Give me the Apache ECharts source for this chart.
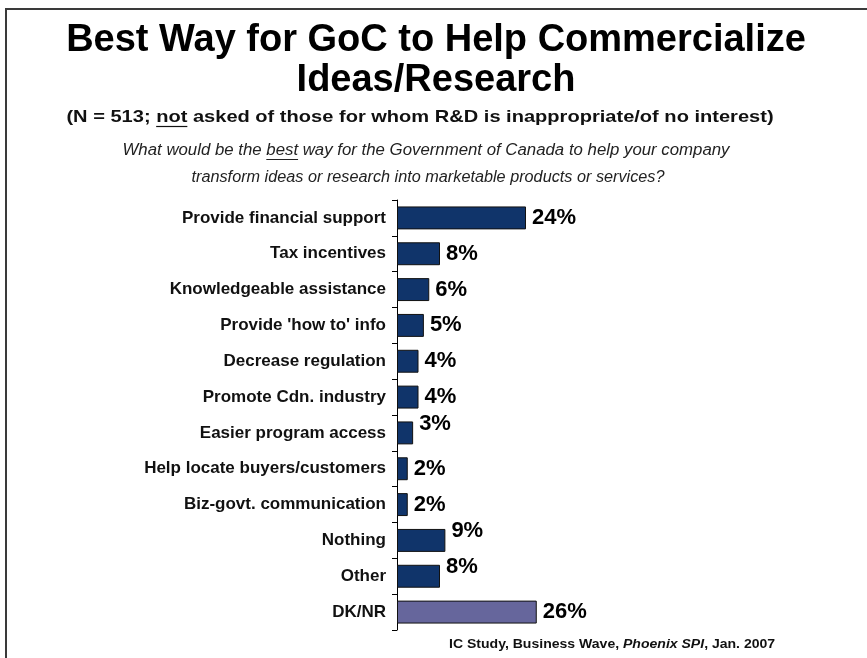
<!DOCTYPE html>
<html>
<head>
<meta charset="utf-8">
<style>
  html, body { margin: 0; padding: 0; background: #ffffff; }
  #chart { width: 867px; height: 658px; }
</style>
<script src="https://cdn.jsdelivr.net/npm/echarts@6/dist/echarts.min.js"></script>
</head>
<body>
<div id="chart"></div>
<script>
// Survey answers, in display order (top to bottom)
const categories = [
  'Provide financial support',
  'Tax incentives',
  'Knowledgeable assistance',
  "Provide 'how to' info",
  'Decrease regulation',
  'Promote Cdn. industry',
  'Easier program access',
  'Help locate buyers/customers',
  'Biz-govt. communication',
  'Nothing',
  'Other',
  'DK/NR'
];
// Share of respondents (%)
const values = [24, 8, 6, 5, 4, 4, 3, 2, 2, 9, 8, 26];

const titleLines = ['Best Way for GoC to Help Commercialize', 'Ideas/Research'];
const noteParts = ['(N = 513; ', 'not', ' asked of those for whom R&D is inappropriate/of no interest)'];
const questionParts = ['What would be the ', 'best', ' way for the Government of Canada to help your company'];
const questionLine2 = 'transform ideas or research into marketable products or services?';
const sourceParts = ['IC Study, Business Wave, ', 'Phoenix SPI', ', Jan. 2007'];

const FONT = '"Liberation Sans", Arial, sans-serif';
const NAVY = '#10346a';
const GREY_PURPLE = '#66669c';

// Labels nudged upward so they sit clear of neighbouring bars
const raisedLabels = ['Easier program access', 'Nothing', 'Other'];

const measureCtx = document.createElement('canvas').getContext('2d');
function textWidth(text, font) {
  measureCtx.font = font;
  return measureCtx.measureText(text).width;
}

// A centred line of text with one underlined word, stretched horizontally by sx
function underlinedLine(parts, cx, y, size, weight, style, color, sx) {
  const font = style + ' ' + weight + ' ' + size + 'px ' + FONT;
  const w0 = textWidth(parts[0], font);
  const w1 = textWidth(parts[1], font);
  const w2 = textWidth(parts[2], font);
  const x0 = -(w0 + w1 + w2) / 2;
  const common = { fontSize: size, fontWeight: weight, fontStyle: style, fontFamily: FONT, fill: color, textVerticalAlign: 'middle', textAlign: 'left' };
  const uy = Math.round(size * 0.5) + 0.5;
  return {
    type: 'group', x: cx, y: y, scaleX: sx,
    children: [
      { type: 'text', x: x0, y: 0, style: Object.assign({ text: parts[0] }, common) },
      { type: 'text', x: x0 + w0, y: 0, style: Object.assign({ text: parts[1] }, common) },
      { type: 'text', x: x0 + w0 + w1, y: 0, style: Object.assign({ text: parts[2] }, common) },
      { type: 'line', shape: { x1: x0 + w0, y1: uy, x2: x0 + w0 + w1, y2: uy }, style: { stroke: color, lineWidth: 1.2 } }
    ]
  };
}

const graphics = [
  // slide frame
  { type: 'rect', shape: { x: 6, y: 9, width: 900, height: 700 }, style: { fill: 'none', stroke: '#3a3a3a', lineWidth: 2 }, silent: true },
  { type: 'text', x: 436, y: 41, style: { text: titleLines[0], fontSize: 38, fontWeight: 'bold', fontFamily: FONT, fill: '#000', textAlign: 'center', textVerticalAlign: 'middle' } },
  { type: 'text', x: 436, y: 81, style: { text: titleLines[1], fontSize: 38, fontWeight: 'bold', fontFamily: FONT, fill: '#000', textAlign: 'center', textVerticalAlign: 'middle' } },
  underlinedLine(noteParts, 420, 117, 17, 'bold', 'normal', '#111', 1.18),
  underlinedLine(questionParts, 426, 151, 16, 'normal', 'italic', '#222', 1.05),
  { type: 'group', x: 428, y: 178, scaleX: 1.015, children: [
    { type: 'text', x: 0, y: 0, style: { text: questionLine2, fontSize: 16, fontStyle: 'italic', fontFamily: FONT, fill: '#222', textAlign: 'center', textVerticalAlign: 'middle' } }
  ] },
  { type: 'group', x: 449, y: 644, scaleX: 1.08, children: [
    { type: 'text', x: 0, y: 0, style: {
        text: '{n|' + sourceParts[0] + '}{i|' + sourceParts[1] + '}{n|' + sourceParts[2] + '}',
        textAlign: 'left', textVerticalAlign: 'middle',
        rich: {
          n: { fontSize: 13, fontWeight: 'bold', fontFamily: FONT, fill: '#111' },
          i: { fontSize: 13, fontWeight: 'bold', fontStyle: 'italic', fontFamily: FONT, fill: '#111' }
        }
      } }
  ] }
];

const chart = echarts.init(document.getElementById('chart'), null, { renderer: 'canvas' });
chart.setOption({
  backgroundColor: '#ffffff',
  animation: false,
  grid: { left: 397, top: 200, width: 430, height: 430, containLabel: false },
  xAxis: { type: 'value', min: 0, max: 80, show: false },
  yAxis: {
    type: 'category',
    data: categories,
    inverse: true,
    axisLine: { show: true, lineStyle: { color: '#000', width: 1 } },
    axisTick: { show: true, length: 5, lineStyle: { color: '#000' } },
    axisLabel: { color: '#111', fontSize: 17, fontWeight: 'bold', fontFamily: FONT, margin: 11 },
    splitLine: { show: false }
  },
  series: [{
    type: 'bar',
    barCategoryGap: '36%',
    data: values.map((v, i) => ({
      value: v,
      label: raisedLabels.indexOf(categories[i]) >= 0 ? { offset: [0, -9] } : undefined
    })),
    itemStyle: {
      color: p => (categories[p.dataIndex] === 'DK/NR' ? GREY_PURPLE : NAVY),
      borderColor: '#111',
      borderWidth: 1
    },
    label: {
      show: true,
      position: 'right',
      distance: 6,
      formatter: p => p.value + '%',
      color: '#000',
      fontSize: 22,
      fontWeight: 'bold',
      fontFamily: FONT
    }
  }],
  graphic: graphics
});
</script>
</body>
</html>
